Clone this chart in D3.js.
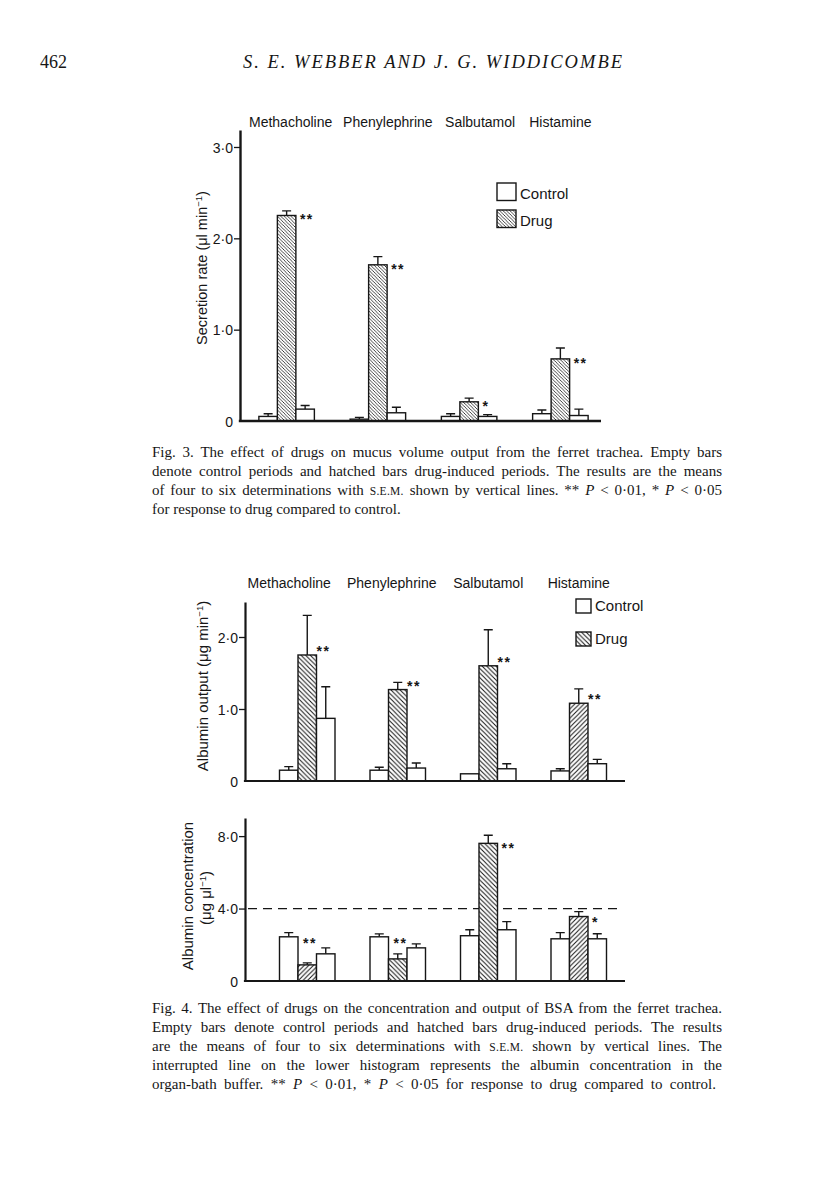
<!DOCTYPE html>
<html><head><meta charset="utf-8">
<script src="https://cdn.jsdelivr.net/npm/d3@7/dist/d3.min.js"></script>
<style>body{margin:0;background:#fff}</style>
</head><body>
<svg id="page" width="816" height="1203" xmlns="http://www.w3.org/2000/svg"></svg>
<script>
// ---------------- DATA ----------------
const categories = ["Methacholine", "Phenylephrine", "Salbutamol", "Histamine"];
const seriesKeys = ["control1", "drug", "control2"];
const legendLabels = ["Control", "Drug"];

// Fig. 3 secretion rate (µl min-1)
const fig3Control1 = [0.05, 0.02, 0.05, 0.08];
const fig3Control1Sem = [0.03, 0.02, 0.03, 0.04];
const fig3Drug = [2.25, 1.71, 0.21, 0.68];
const fig3DrugSem = [0.05, 0.09, 0.04, 0.12];
const fig3Control2 = [0.13, 0.09, 0.05, 0.06];
const fig3Control2Sem = [0.04, 0.06, 0.02, 0.07];
const fig3Stars = ["**", "**", "*", "**"];
const fig3Ticks = [0, 1, 2, 3];

// Fig. 4 upper: albumin output (µg min-1)
const fig4aControl1 = [0.15, 0.15, 0.10, 0.14];
const fig4aControl1Sem = [0.05, 0.04, 0.0, 0.03];
const fig4aDrug = [1.75, 1.27, 1.60, 1.08];
const fig4aDrugSem = [0.55, 0.10, 0.50, 0.20];
const fig4aControl2 = [0.87, 0.18, 0.17, 0.24];
const fig4aControl2Sem = [0.44, 0.07, 0.07, 0.06];
const fig4aStars = ["**", "**", "**", "**"];
const fig4aTicks = [0, 1, 2];

// Fig. 4 lower: albumin concentration (µg µl-1)
const fig4bControl1 = [2.44, 2.44, 2.50, 2.33];
const fig4bControl1Sem = [0.23, 0.16, 0.33, 0.34];
const fig4bDrug = [0.89, 1.22, 7.60, 3.56];
const fig4bDrugSem = [0.11, 0.28, 0.45, 0.27];
const fig4bControl2 = [1.50, 1.83, 2.83, 2.33];
const fig4bControl2Sem = [0.33, 0.22, 0.45, 0.28];
const fig4bStars = ["**", "**", "**", "*"];
const fig4bTicks = [0, 4, 8];
const fig4bBufferConc = 4.0;

const fig3Caption = [
  "Fig. 3. The effect of drugs on mucus volume output from the ferret trachea. Empty bars",
  "denote control periods and hatched bars drug-induced periods. The results are the means",
  "of four to six determinations with {sc:S.E.M.} shown by vertical lines. ** {i:P} < 0·01, * {i:P} < 0·05",
  "for response to drug compared to control."
];
const fig4Caption = [
  "Fig. 4. The effect of drugs on the concentration and output of BSA from the ferret trachea.",
  "Empty bars denote control periods and hatched bars drug-induced periods. The results",
  "are the means of four to six determinations with {sc:S.E.M.} shown by vertical lines. The",
  "interrupted line on the lower histogram represents the albumin concentration in the",
  "organ-bath buffer. ** {i:P} < 0·01, * {i:P} < 0·05 for response to drug compared to control."
];

// ---------------- DRAWING ----------------
const SANS = "'Liberation Sans', Arial, Helvetica, sans-serif";
const SERIF = "'Liberation Serif', 'Times New Roman', serif";
const INK = "#161616";
const svg = d3.select("#page");
svg.append("rect").attr("width", 816).attr("height", 1203).attr("fill", "#fff");
const defs = svg.append("defs");

function hatch(id, s, dir, sw) {
  const p = defs.append("pattern").attr("id", id)
    .attr("patternUnits", "userSpaceOnUse").attr("width", s).attr("height", s);
  p.append("rect").attr("width", s).attr("height", s).attr("fill", "#fff");
  const d = dir === "back"
    ? `M-1,-1L${s+1},${s+1}M-1,${s-1}L1,${s+1}M${s-1},-1L${s+1},1`
    : `M-1,${s+1}L${s+1},-1M-1,1L1,-1M${s-1},${s+1}L${s+1},${s-1}`;
  p.append("path").attr("d", d).attr("stroke", INK).attr("stroke-width", sw).attr("fill", "none");
}
hatch("h3", 3.4, "back", 0.8);
hatch("hb", 4.6, "back", 1.0);
hatch("hf", 4.6, "fwd", 1.0);

const fmt = d => d === 0 ? "0" : d.toFixed(1).replace(".", "·");

function panel(cfg) {
  const g = svg.append("g");
  const x0 = d3.scaleBand().domain(categories).range(cfg.xRange);
  const x1 = d3.scaleBand().domain(seriesKeys).range([-cfg.groupW / 2, cfg.groupW / 2]);
  const y = d3.scaleLinear().domain([0, cfg.yTop]).range(cfg.yRange);
  const cx = c => x0(c) + x0.bandwidth() / 2;

  if (cfg.refLine != null) {
    g.append("line").attr("x1", cfg.refX[0]).attr("x2", cfg.refX[1])
      .attr("y1", y(cfg.refLine)).attr("y2", y(cfg.refLine))
      .attr("stroke", INK).attr("stroke-width", 1.3).attr("stroke-dasharray", "9,6");
  }

  const rows = [];
  categories.forEach((c, i) => seriesKeys.forEach((k, j) => {
    rows.push({ cat: c, key: k, i, v: cfg.values[j][i], e: cfg.errors[j][i] });
  }));

  const ebPath = d => {
    const xm = cx(d.cat) + x1(d.key) + x1.bandwidth() / 2;
    const yt = y(d.v + d.e);
    return `M${xm},${y(d.v)}V${yt}M${xm - 4.5},${yt}H${xm + 4.5}`;
  };
  g.selectAll("path.eb").data(rows.filter(d => d.e > 0)).join("path")
    .attr("class", "eb").attr("d", ebPath)
    .attr("stroke", INK).attr("stroke-width", 1.4).attr("fill", "none");

  g.selectAll("rect.bar").data(rows).join("rect")
    .attr("class", "bar")
    .attr("x", d => cx(d.cat) + x1(d.key))
    .attr("width", x1.bandwidth())
    .attr("y", d => y(d.v))
    .attr("height", d => y(0) - y(d.v))
    .attr("fill", d => d.key === "drug" ? `url(#${cfg.drugPattern[d.i]})` : "#fff")
    .attr("stroke", INK).attr("stroke-width", 1.4);

  categories.forEach((c, i) => {
    const v = cfg.values[1][i];
    const left = cx(c) + x1("drug");
    const right = left + x1.bandwidth();
    let sx, sy;
    if (cfg.starMode[i] === "above") { sx = left + 5; sy = y(cfg.values[0][i]) + 3; }
    else { sx = right + cfg.starDx; sy = y(v) + cfg.starDy; }
    g.append("text").attr("x", sx).attr("y", sy + 8)
      .attr("font-family", SANS).attr("font-size", 14).attr("font-weight", "bold").attr("letter-spacing", 1.5)
      .attr("fill", INK).text(cfg.stars[i]);
  });

  const ax = d3.axisLeft(y).tickValues(cfg.ticks).tickSize(cfg.tickLen).tickSizeOuter(0)
    .tickPadding(1).tickFormat(fmt);
  const axG = g.append("g").attr("transform", `translate(${cfg.axisX},0)`).call(ax);
  axG.select(".domain").attr("stroke", INK).attr("stroke-width", cfg.axisW);
  axG.selectAll(".tick line").attr("stroke", INK).attr("stroke-width", 1.3);
  axG.selectAll(".tick text").attr("font-family", SANS).attr("font-size", 14)
    .attr("fill", INK).attr("dy", "0.36em");
  axG.selectAll(".tick").filter(d => d === 0).select("line").remove();

  g.append("line").attr("x1", cfg.axisX - cfg.axisW / 2).attr("x2", cfg.baseEnd)
    .attr("y1", y(0)).attr("y2", y(0)).attr("stroke", INK).attr("stroke-width", cfg.baseW);

  if (cfg.catLabelY) {
    g.selectAll("text.cat").data(categories).join("text").attr("class", "cat")
      .attr("x", (c, i) => cx(c) + cfg.catDx[i]).attr("y", cfg.catLabelY)
      .attr("text-anchor", "middle").attr("font-family", SANS).attr("font-size", cfg.catSize)
      .attr("fill", INK).text(c => c);
  }

  cfg.yLabel.forEach(L => {
    const t = g.append("text").attr("transform", `translate(${L.x},${L.y}) rotate(-90)`)
      .attr("text-anchor", "middle").attr("font-family", SANS).attr("font-size", L.size || 14.5).attr("fill", INK);
    L.parts.forEach(p => {
      const ts = t.append("tspan").text(p.t);
      if (p.sup) ts.attr("font-size", 9.5).attr("dy", -5);
      if (p.after) ts.attr("dy", 5);
    });
  });

  if (cfg.legend) {
    const Lg = cfg.legend;
    legendLabels.forEach((lab, k) => {
      g.append("rect").attr("x", Lg.x).attr("y", Lg.y[k]).attr("width", Lg.w).attr("height", Lg.h)
        .attr("fill", k === 0 ? "#fff" : `url(#${Lg.pattern})`).attr("stroke", INK).attr("stroke-width", 1.4);
      g.append("text").attr("x", Lg.x + Lg.w + 4).attr("y", Lg.y[k] + Lg.h - 2)
        .attr("font-family", SANS).attr("font-size", 15).attr("fill", INK).text(lab);
    });
  }
}

// Fig. 3
panel({
  xRange: [241, 606], groupW: 55.5, yTop: 3.186, yRange: [421, 130],
  values: [fig3Control1, fig3Drug, fig3Control2],
  errors: [fig3Control1Sem, fig3DrugSem, fig3Control2Sem],
  drugPattern: ["h3", "h3", "h3", "h3"],
  stars: fig3Stars, starMode: ["right", "right", "right", "right"], starDx: 4, starDy: 1,
  ticks: fig3Ticks, tickLen: 6, axisX: 240, axisW: 2.4, baseW: 2.6, baseEnd: 601,
  catLabelY: 127, catDx: [4, 10, 11, 0], catSize: 14,
  yLabel: [{ x: 207, y: 268, parts: [{ t: "Secretion rate (μl min" }, { t: "−1", sup: true }, { t: ")", after: true }] }],
  legend: { x: 497, y: [183, 210], w: 19, h: 17.5, pattern: "h3" }
});

// Fig. 4 upper
panel({
  xRange: [262, 624], groupW: 55.5, yTop: 2.486, yRange: [781, 602],
  values: [fig4aControl1, fig4aDrug, fig4aControl2],
  errors: [fig4aControl1Sem, fig4aDrugSem, fig4aControl2Sem],
  drugPattern: ["hb", "hb", "hb", "hf"],
  stars: fig4aStars, starMode: ["right", "right", "right", "right"], starDx: 0, starDy: -7,
  ticks: fig4aTicks, tickLen: 6, axisX: 245, axisW: 2.2, baseW: 2.2, baseEnd: 625,
  catLabelY: 588, catDx: [-18, -6, 0, 0], catSize: 14,
  yLabel: [{ x: 208, y: 686, size: 15, parts: [{ t: "Albumin output (μg min" }, { t: "−1", sup: true }, { t: ")", after: true }] }],
  legend: { x: 576, y: [599, 632], w: 15, h: 14, pattern: "hb" }
});

// Fig. 4 lower
panel({
  xRange: [262, 624], groupW: 55.5, yTop: 9.0, yRange: [981, 818],
  values: [fig4bControl1, fig4bDrug, fig4bControl2],
  errors: [fig4bControl1Sem, fig4bDrugSem, fig4bControl2Sem],
  drugPattern: ["hf", "hb", "hb", "hf"],
  stars: fig4bStars, starMode: ["above", "above", "right", "right"], starDx: 4, starDy: 2,
  ticks: fig4bTicks, tickLen: 6, axisX: 245, axisW: 2.2, baseW: 2.2, baseEnd: 625,
  refLine: fig4bBufferConc, refX: [248, 617],
  catLabelY: null,
  yLabel: [
    { x: 193, y: 896, size: 15, parts: [{ t: "Albumin concentration" }] },
    { x: 211, y: 898, size: 15, parts: [{ t: "(μg μl" }, { t: "−1", sup: true }, { t: ")", after: true }] }
  ]
});

// header
svg.append("text").attr("x", 40).attr("y", 68).attr("font-family", SERIF).attr("font-size", 18)
  .attr("fill", INK).text("462");
svg.append("text").attr("x", 243).attr("y", 68).attr("font-family", SERIF).attr("font-size", 18.5)
  .attr("font-style", "italic").attr("fill", INK).attr("textLength", 379).attr("lengthAdjust", "spacing")
  .text("S. E. WEBBER AND J. G. WIDDICOMBE");

// captions
function caption(lines, x, y0, lh, right, justifyLast) {
  lines.forEach((line, k) => {
    const t = svg.append("text").attr("x", x).attr("y", y0 + k * lh)
      .attr("font-family", SERIF).attr("font-size", 15).attr("fill", INK);
    const re = /\{(i|sc):([^}]*)\}/g;
    let last = 0, m;
    while ((m = re.exec(line)) !== null) {
      if (m.index > last) t.append("tspan").text(line.slice(last, m.index));
      const ts = t.append("tspan").text(m[2]);
      if (m[1] === "i") ts.attr("font-style", "italic");
      else ts.attr("font-size", 11.5).attr("letter-spacing", 0.3);
      last = re.lastIndex;
    }
    if (last < line.length) t.append("tspan").text(line.slice(last));
    const isLast = k === lines.length - 1;
    if (!isLast || justifyLast) {
      const target = (isLast ? justifyLast : right) - x;
      const len = t.node().getComputedTextLength();
      const spaces = (line.replace(re, "x").match(/ /g) || []).length;
      if (spaces) t.attr("word-spacing", (target - len) / spaces);
    }
  });
}
caption(fig3Caption, 152, 457, 19, 722, null);
caption(fig4Caption, 152, 1013, 19, 722, 716);
</script>
</body></html>
